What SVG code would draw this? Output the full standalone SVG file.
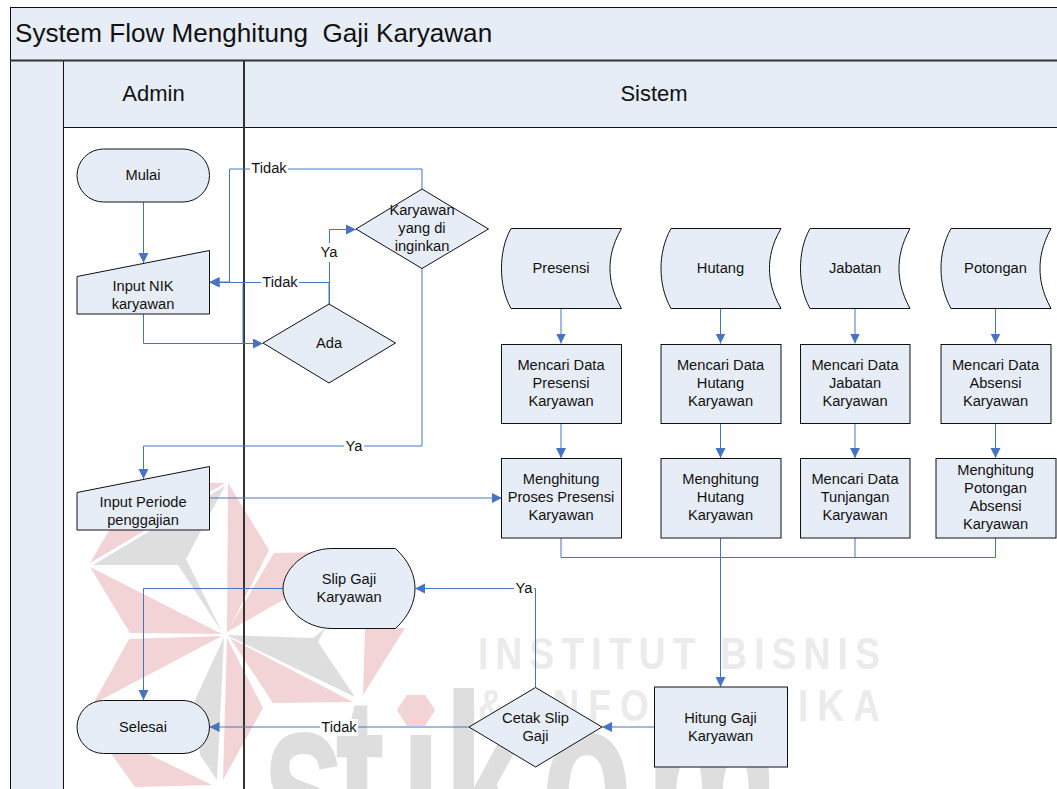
<svg xmlns="http://www.w3.org/2000/svg" width="1057" height="789" viewBox="0 0 1057 789">
<style>
text{font-family:"Liberation Sans",Arial,sans-serif;fill:#111;text-anchor:middle;white-space:pre}
.n{font-size:14.67px}
.h{font-size:22px}
.s{fill:#e7edf7;stroke:#111;stroke-width:1}
.c{fill:none;stroke:#4674c2;stroke-width:1;marker-end:url(#a)}
.c0{fill:none;stroke:#4674c2;stroke-width:1}
.p{fill:#f2d3d6}
.g{fill:#dedede}
.w{font-weight:bold;font-size:45px;fill:#ebebeb;text-anchor:start}
.l{fill:#fff}
</style>
<defs>
<marker id="a" markerUnits="userSpaceOnUse" markerWidth="11" markerHeight="11" refX="10" refY="5" orient="auto"><path d="M0,0L10,5L0,10Z" fill="#4674c2"/></marker>
</defs>
<rect width="1057" height="789" fill="#fff"/>
<g id="watermark">
<polygon class="p" points="228,483 269,550 227,633"/>
<polygon class="g" points="225,486 93,565 178,565 222,632 186,559"/>
<polygon class="p" points="90,563 122,508 211,483 225,483"/>
<polygon class="p" points="90,567 130,633 222,634"/>
<polygon class="p" points="129,639 222,636 93,704"/>
<polygon class="p" points="105,745 135,787 212,785 140,750"/>
<polygon class="g" points="224,637 195,700 200,755 217,780"/>
<polygon class="p" points="227,638 263,708 223,780"/>
<polygon class="g" points="227,635 313,638 325,628 318,642 355,697 247,645"/>
<polygon class="p" points="230,638 353,702 273,703"/>
<polygon class="p" points="227,632 274,553 330,552 283,600"/>
<polygon class="p" points="365,628 405,628 363,695"/>
<text class="w" transform="translate(478,669) scale(.82,1)" textLength="490" lengthAdjust="spacing">INSTITUT BISNIS</text>
<text class="w" transform="translate(478,721) scale(.82,1)" textLength="490" lengthAdjust="spacing">&amp; INFORMATIKA</text>
<text transform="translate(0,862) scale(1,1.6)" x="262 335 400 443 541 645" style="font-weight:bold;font-size:150px;fill:#dedede;text-anchor:start">stikom</text>
<rect x="396" y="680" width="44" height="54" fill="#fff"/>
<polygon class="p" points="407,695 425,695 435,710 425,726 407,726 397,710"/>
</g>
<g id="swimlanes">
<rect x="10.5" y="7.5" width="1060" height="53" fill="#e7edf7" stroke="#111"/>
<rect x="10.5" y="60.5" width="53" height="740" fill="#e7edf7" stroke="#111"/>
<rect x="63.5" y="60.5" width="180.5" height="67" fill="#e7edf7" stroke="#111"/>
<rect x="244" y="60.5" width="826" height="67" fill="#e7edf7" stroke="#111"/>
<path d="M10,60.5H1057" stroke="#333" stroke-width="2" fill="none"/>
<path d="M244,60V789" stroke="#333" stroke-width="2" fill="none"/>
<text x="15" y="42" style="font-size:26.1px;text-anchor:start">System Flow Menghitung  Gaji Karyawan</text>
<text class="h" x="153.5" y="101">Admin</text>
<text class="h" x="654" y="101">Sistem</text>
</g>
<g id="connectors">
<path class="c" d="M143.5,202V263"/>
<path class="c" d="M143.5,314V343.5H263"/>
<path class="c" d="M329.5,304V229.5H356"/>
<path class="c" d="M329,304V282.5H209.5"/>
<path class="c0" d="M243,282.5V343.5"/>
<path class="c" d="M422,189V169H229.5V282H209.5"/>
<path class="c" d="M422,268V446H143.5V479"/>
<path class="c" d="M209.5,498H502"/>
<path class="c" d="M283,588.5H143.5V700"/>
<path class="c" d="M469,727H209.5"/>
<path class="c" d="M654.5,727H602"/>
<path class="c" d="M535.5,687V588.5H415"/>
<path class="c" d="M561,308.5V343.5"/>
<path class="c" d="M720.5,308.5V343.5"/>
<path class="c" d="M855,308.5V343.5"/>
<path class="c" d="M995.5,308.5V343.5"/>
<path class="c" d="M561,423.5V458"/>
<path class="c" d="M720.5,423.5V458"/>
<path class="c" d="M855,423.5V458"/>
<path class="c" d="M995.5,423.5V458"/>
<path class="c0" d="M561,538V557.5H995.5V538"/>
<path class="c0" d="M855,538V557.5"/>
<path class="c" d="M720.5,538V687"/>
<rect class="l" x="250" y="160" width="38" height="17"/><text class="n" x="269" y="173">Tidak</text>
<rect class="l" x="261" y="274" width="38" height="17"/><text class="n" x="280" y="287">Tidak</text>
<rect class="l" x="319" y="243" width="20" height="19"/><text class="n" x="329" y="257">Ya</text>
<rect class="l" x="344" y="438" width="20" height="17"/><text class="n" x="354" y="451">Ya</text>
<rect class="l" x="514" y="580" width="20" height="17"/><text class="n" x="524" y="593">Ya</text>
<rect class="l" x="320" y="719" width="38" height="17"/><text class="n" x="339" y="732">Tidak</text>
</g>
<g id="mulai"><rect class="s" x="77" y="149" width="132.5" height="53" rx="26.5"/><text class="n" x="143" y="180">Mulai</text></g>
<g id="input-nik"><polygon class="s" points="77,276.5 209.5,250.5 209.5,314 77,314"/><text class="n" x="143" y="291">Input NIK</text><text class="n" x="143" y="309">karyawan</text></g>
<g id="ada"><polygon class="s" points="263,343 329,304 395.5,343 329,383"/><text class="n" x="329" y="348">Ada</text></g>
<g id="karyawan-diinginkan"><polygon class="s" points="356,229 422,189 488.5,229 422,268.5"/><text class="n" x="422" y="215">Karyawan</text><text class="n" x="422" y="233">yang di</text><text class="n" x="422" y="251">inginkan</text></g>
<g id="input-periode"><polygon class="s" points="77,492.5 209.5,466.5 209.5,530 77,530"/><text class="n" x="143" y="507">Input Periode</text><text class="n" x="143" y="525">penggajian</text></g>
<g id="slip-gaji"><path class="s" d="M332,548.5H395.5C409,561 415,575 415,588.5C415,602 409,616 395.5,628.5H332C303,628.5 283,606 283,588.5C283,571 303,548.5 332,548.5Z"/><text class="n" x="349" y="584">Slip Gaji</text><text class="n" x="349" y="602">Karyawan</text></g>
<g id="selesai"><rect class="s" x="77" y="700.5" width="132.5" height="53" rx="26.5"/><text class="n" x="143" y="732">Selesai</text></g>
<g id="presensi"><path class="s" d="M511,228.5H621.5C612,245 610,258 610,268.5C610,279 612,292 621.5,308.5H511C504,296 501.5,282 501.5,268.5C501.5,255 504,241 511,228.5Z"/><text class="n" x="561" y="273">Presensi</text></g>
<g id="hutang"><path class="s" d="M671,228.5H781C771.5,245 769.5,258 769.5,268.5C769.5,279 771.5,292 781,308.5H671C664,296 661,282 661,268.5C661,255 664,241 671,228.5Z"/><text class="n" x="720.5" y="273">Hutang</text></g>
<g id="jabatan"><path class="s" d="M810,228.5H910C901,245 899,258 899,268.5C899,279 901,292 910,308.5H810C803,296 800.5,282 800.5,268.5C800.5,255 803,241 810,228.5Z"/><text class="n" x="855" y="273">Jabatan</text></g>
<g id="potongan"><path class="s" d="M951,228.5H1051C1042,245 1040,258 1040,268.5C1040,279 1042,292 1051,308.5H951C944,296 941,282 941,268.5C941,255 944,241 951,228.5Z"/><text class="n" x="995.5" y="273">Potongan</text></g>
<g id="cari-presensi"><rect class="s" x="501.5" y="344.5" width="120" height="79"/><text class="n" x="561" y="370">Mencari Data</text><text class="n" x="561" y="388">Presensi</text><text class="n" x="561" y="406">Karyawan</text></g>
<g id="cari-hutang"><rect class="s" x="661" y="344.5" width="120" height="79"/><text class="n" x="720.5" y="370">Mencari Data</text><text class="n" x="720.5" y="388">Hutang</text><text class="n" x="720.5" y="406">Karyawan</text></g>
<g id="cari-jabatan"><rect class="s" x="800.5" y="344.5" width="109.5" height="79"/><text class="n" x="855" y="370">Mencari Data</text><text class="n" x="855" y="388">Jabatan</text><text class="n" x="855" y="406">Karyawan</text></g>
<g id="cari-absensi"><rect class="s" x="941" y="344.5" width="110" height="79"/><text class="n" x="995.5" y="370">Mencari Data</text><text class="n" x="995.5" y="388">Absensi</text><text class="n" x="995.5" y="406">Karyawan</text></g>
<g id="hitung-presensi"><rect class="s" x="501.5" y="458.5" width="120" height="79.5"/><text class="n" x="561" y="484">Menghitung</text><text class="n" x="561" y="502">Proses Presensi</text><text class="n" x="561" y="520">Karyawan</text></g>
<g id="hitung-hutang"><rect class="s" x="661" y="458.5" width="120" height="79.5"/><text class="n" x="720.5" y="484">Menghitung</text><text class="n" x="720.5" y="502">Hutang</text><text class="n" x="720.5" y="520">Karyawan</text></g>
<g id="cari-tunjangan"><rect class="s" x="800.5" y="458.5" width="109.5" height="79.5"/><text class="n" x="855" y="484">Mencari Data</text><text class="n" x="855" y="502">Tunjangan</text><text class="n" x="855" y="520">Karyawan</text></g>
<g id="hitung-potongan"><rect class="s" x="936" y="458.5" width="120" height="79.5"/><text class="n" x="995.5" y="475">Menghitung</text><text class="n" x="995.5" y="493">Potongan</text><text class="n" x="995.5" y="511">Absensi</text><text class="n" x="995.5" y="529">Karyawan</text></g>
<g id="hitung-gaji"><rect class="s" x="654.5" y="687" width="133" height="80"/><text class="n" x="720.5" y="723">Hitung Gaji</text><text class="n" x="720.5" y="741">Karyawan</text></g>
<g id="cetak-slip"><polygon class="s" points="469,727 535.5,687.5 602,727 535.5,767"/><text class="n" x="535.5" y="723">Cetak Slip</text><text class="n" x="535.5" y="741">Gaji</text></g>
</svg>
